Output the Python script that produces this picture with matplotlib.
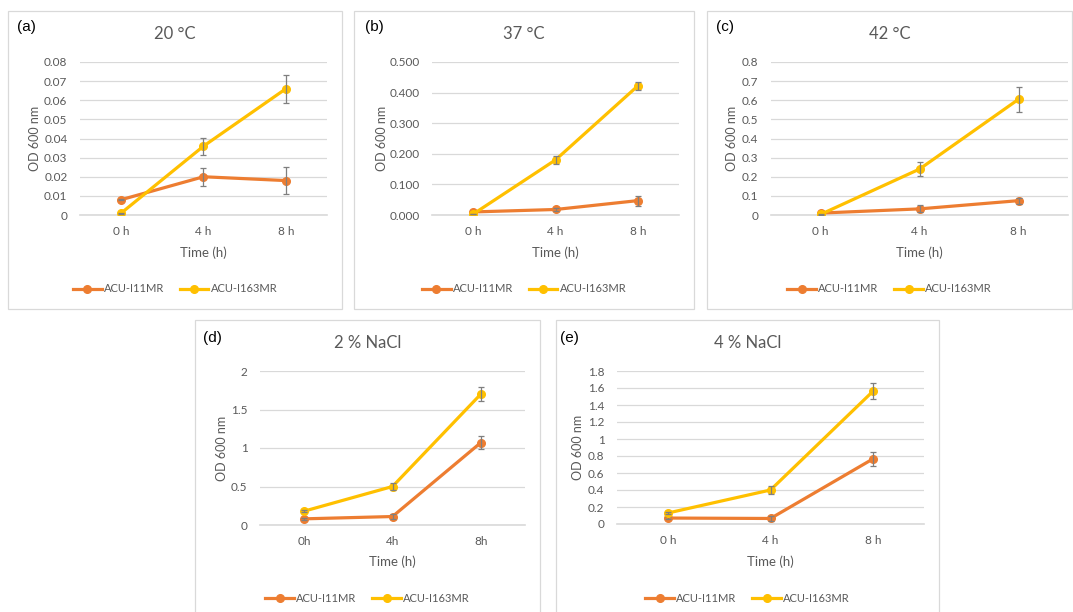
import matplotlib
matplotlib.use("Agg")
import matplotlib.pyplot as plt
from matplotlib.patches import Rectangle

plt.rcParams["font.family"] = ["Lato", "DejaVu Sans"]

# --- data ---------------------------------------------------------------
series_names = ["ACU-I11MR", "ACU-I163MR"]
titles = ["20 °C", "37 °C", "42 °C", "2 % NaCl", "4 % NaCl"]
panel_tags = ["(a)", "(b)", "(c)", "(d)", "(e)"]
time_labels = ["0 h", "4 h", "8 h"]
time_labels_d = ["0h", "4h", "8h"]

i11_20C = [0.008, 0.020, 0.018]
i11_20C_err = [0.0004, 0.0047, 0.0072]
i163_20C = [0.001, 0.036, 0.066]
i163_20C_err = [0.0003, 0.0045, 0.0072]

i11_37C = [0.010, 0.018, 0.047]
i11_37C_err = [0.002, 0.004, 0.016]
i163_37C = [0.003, 0.180, 0.422]
i163_37C_err = [0.001, 0.013, 0.012]

i11_42C = [0.010, 0.032, 0.075]
i11_42C_err = [0.002, 0.018, 0.015]
i163_42C = [0.003, 0.240, 0.605]
i163_42C_err = [0.001, 0.035, 0.065]

i11_2NaCl = [0.08, 0.11, 1.07]
i11_2NaCl_err = [0.01, 0.03, 0.08]
i163_2NaCl = [0.18, 0.50, 1.70]
i163_2NaCl_err = [0.01, 0.05, 0.09]

i11_4NaCl = [0.07, 0.065, 0.765]
i11_4NaCl_err = [0.01, 0.03, 0.08]
i163_4NaCl = [0.13, 0.40, 1.56]
i163_4NaCl_err = [0.01, 0.05, 0.095]

yticks_20C = [0, 0.01, 0.02, 0.03, 0.04, 0.05, 0.06, 0.07, 0.08]
ylabels_20C = ["0", "0.01", "0.02", "0.03", "0.04", "0.05", "0.06", "0.07", "0.08"]
yticks_37C = [0, 0.1, 0.2, 0.3, 0.4, 0.5]
ylabels_37C = ["0.000", "0.100", "0.200", "0.300", "0.400", "0.500"]
yticks_42C = [0, 0.1, 0.2, 0.3, 0.4, 0.5, 0.6, 0.7, 0.8]
ylabels_42C = ["0", "0.1", "0.2", "0.3", "0.4", "0.5", "0.6", "0.7", "0.8"]
yticks_2NaCl = [0, 0.5, 1, 1.5, 2]
ylabels_2NaCl = ["0", "0.5", "1", "1.5", "2"]
yticks_4NaCl = [0, 0.2, 0.4, 0.6, 0.8, 1, 1.2, 1.4, 1.6, 1.8]
ylabels_4NaCl = ["0", "0.2", "0.4", "0.6", "0.8", "1", "1.2", "1.4", "1.6", "1.8"]

panels = [
    (i11_20C, i11_20C_err, i163_20C, i163_20C_err, yticks_20C, ylabels_20C, time_labels),
    (i11_37C, i11_37C_err, i163_37C, i163_37C_err, yticks_37C, ylabels_37C, time_labels),
    (i11_42C, i11_42C_err, i163_42C, i163_42C_err, yticks_42C, ylabels_42C, time_labels),
    (i11_2NaCl, i11_2NaCl_err, i163_2NaCl, i163_2NaCl_err, yticks_2NaCl, ylabels_2NaCl, time_labels_d),
    (i11_4NaCl, i11_4NaCl_err, i163_4NaCl, i163_4NaCl_err, yticks_4NaCl, ylabels_4NaCl, time_labels),
]

# --- layout in pixels: (box l, t, r, b), (plot l, t, r, b), title y, xlabel y, legend y, tag xy, ylabel x
W, H = 1073, 612
layout = [
    ((8, 11, 342, 309), (80, 62, 327, 215), 34, 253, 289, (26, 27), 35),
    ((354, 11, 694, 309), (432, 62, 679, 215), 34, 253, 289, (374, 27), 382),
    ((707, 11, 1072, 309), (771, 62, 1068, 215), 34, 253, 289, (725, 27), 732),
    ((195, 320, 540, 620), (260, 371, 525, 525), 343, 562, 598, (212, 338), 222),
    ((556, 320, 939, 620), (617, 371, 924, 524), 343, 562, 598, (569, 338), 578),
]

ORANGE = "#ED7D31"
YELLOW = "#FFC000"
GREY_TXT = "#595959"
GRID = "#D9D9D9"
ERR = "#7F7F7F"


def fx(px):
    return px / W


def fy(py):
    return 1 - py / H


fig = plt.figure(figsize=(W / 100, H / 100), dpi=100)

for (i11, i11e, i163, i163e, yt, yl, xl), (box, plot, ty, xly, ly, tag, ylx), title, ptag in zip(
        panels, layout, titles, panel_tags):
    bl, bt, br, bb = box
    fig.patches.append(Rectangle((fx(bl), fy(bb)), fx(br) - fx(bl), (bb - bt) / H,
                                 transform=fig.transFigure, fill=False,
                                 edgecolor=GRID, linewidth=0.9, zorder=0))
    pl, pt, pr, pb = plot
    ax = fig.add_axes([fx(pl), fy(pb), fx(pr) - fx(pl), (pb - pt) / H])
    x = range(len(xl))

    ax.errorbar(x, i11, yerr=i11e, fmt="none", ecolor=ERR, elinewidth=0.9,
                capsize=2.5, capthick=0.9, zorder=4)
    ax.plot(x, i11, color=ORANGE, lw=2.3, marker="o", markersize=5.5,
            label=series_names[0], zorder=3)
    ax.errorbar(x, i163, yerr=i163e, fmt="none", ecolor=ERR, elinewidth=0.9,
                capsize=2.5, capthick=0.9, zorder=6)
    ax.plot(x, i163, color=YELLOW, lw=2.3, marker="o", markersize=5.5,
            label=series_names[1], zorder=5)

    ax.set_xlim(-0.5, len(xl) - 0.5)
    ax.set_ylim(yt[0], yt[-1])
    ax.set_xticks(list(x))
    ax.set_xticklabels(xl)
    ax.set_yticks(yt)
    ax.set_yticklabels(yl)
    ax.tick_params(length=0, labelsize=8.5, labelcolor=GREY_TXT)
    ax.tick_params(axis="y", pad=9)
    ax.tick_params(axis="x", pad=8)
    ax.grid(axis="y", color=GRID, lw=0.9)
    ax.set_axisbelow(True)
    for s in ["top", "right", "left"]:
        ax.spines[s].set_visible(False)
    ax.spines["bottom"].set_color(GRID)
    ax.spines["bottom"].set_linewidth(1.2)
    ax.spines["bottom"].set_zorder(1)
    ax.patch.set_alpha(0)

    cx = (bl + br) / 2
    fig.text(fx(cx), fy(ty), title, ha="center", va="center", fontsize=12, color=GREY_TXT)
    fig.text(fx((pl + pr) / 2), fy(xly), "Time (h)", ha="center", va="center",
             fontsize=9.5, color=GREY_TXT)
    fig.text(fx(ylx), fy((pt + pb) / 2), "OD 600 nm", ha="center", va="center",
             rotation=90, fontsize=9, color=GREY_TXT)
    fig.text(fx(tag[0]), fy(tag[1]), ptag, ha="center", va="center", fontsize=11,
             color="black", family=["Liberation Sans", "DejaVu Sans"])

    ax.legend(loc="center", bbox_to_anchor=(fx(cx), fy(ly)), bbox_transform=fig.transFigure,
              ncol=2, frameon=False, fontsize=8, labelcolor=GREY_TXT,
              handlelength=2.6, handletextpad=0.2, columnspacing=1.4)

fig.savefig("out.png", dpi=100)
